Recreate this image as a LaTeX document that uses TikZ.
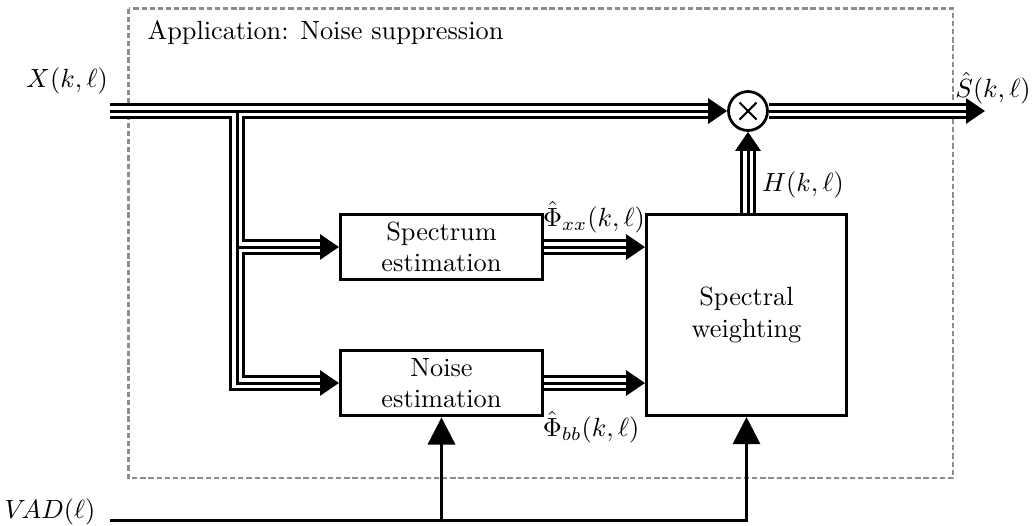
\documentclass[tikz,border=0pt]{standalone}
\usetikzlibrary{arrows.meta}
\begin{document}
\begin{tikzpicture}[x=0.38pt,y=-0.38pt,
  box/.style={draw, line width=1.14pt, align=center, inner sep=0pt},
  lbl/.style={inner sep=0pt},
  triA/.style={line width=6.08pt, line join=miter, shorten >=5.3pt},
  triB/.style={draw=white, line width=3.8pt, line join=miter, shorten >=5.3pt},
  triC/.style={line width=1.14pt, line join=miter, -{Triangle[length=7.2pt,width=9.5pt]}},
  sig/.style={line width=1.14pt, line join=miter, -{Triangle[length=10.3pt,width=10.3pt]}},
  frame/.style={draw=black!45, line width=0.95pt, dash pattern=on 2pt off 1.1pt}]
\useasboundingbox (0,0) rectangle (1034,525);
% frame
\draw[frame] (128.5,8.5) rectangle (953,478);
\node[lbl, anchor=west] (title) at (147,33) {Application: Noise suppression};
% blocks
\node[box, minimum width=76.8pt, minimum height=24.7pt] (spec) at (441.5,247) {Spectrum\\estimation};
\node[box, minimum width=76.8pt, minimum height=25pt] (noise) at (441.5,383) {Noise\\estimation};
\node[box, minimum width=76pt, minimum height=76.4pt] (wgt) at (746.5,315) {Spectral\\weighting};
\node[draw, circle, line width=1.05pt, minimum size=14.8pt, inner sep=0pt] (mul) at (748,111) {};
\draw[line width=0.8pt] (mul.center) ++(-8.5,-8.5) -- ++(17,17);
\draw[line width=0.8pt] (mul.center) ++(-8.5,8.5) -- ++(17,-17);
% coordinates
\coordinate (xin) at (110,111);
\coordinate (jn) at (237,111);
\coordinate (sout) at (985,111);
\coordinate (vadin) at (110,520);
% labels
\node[lbl] (xlab) at (67,81) {$X(k,\ell)$};
\node[lbl] (slab) at (993,88) {$\hat{S}(k,\ell)$};
\node[lbl] (hlab) at (803,185) {$H(k,\ell)$};
\node[lbl] (pxx) at (594,217) {$\hat{\Phi}_{xx}(k,\ell)$};
\node[lbl] (pbb) at (591,427) {$\hat{\Phi}_{bb}(k,\ell)$};
\node[lbl] (vlab) at (50,512) {$V\!AD(\ell)$};
% triple lines, layered
\foreach \st in {triA,triB,triC}{
  \draw[\st] (xin) -- (mul);
  \draw[\st] (mul) -- (sout);
  \draw[\st] (jn) |- (spec);
  \draw[\st] (jn) |- (noise);
  \draw[\st] (spec) -- (wgt.west |- spec);
  \draw[\st] (noise) -- (wgt.west |- noise);
  \draw[\st] (mul |- wgt.north) -- (mul);
}
% VAD
\draw[sig] (vadin) -| (wgt.south);
\draw[sig] (noise.south |- vadin) -- (noise.south);
\end{tikzpicture}
\end{document}
